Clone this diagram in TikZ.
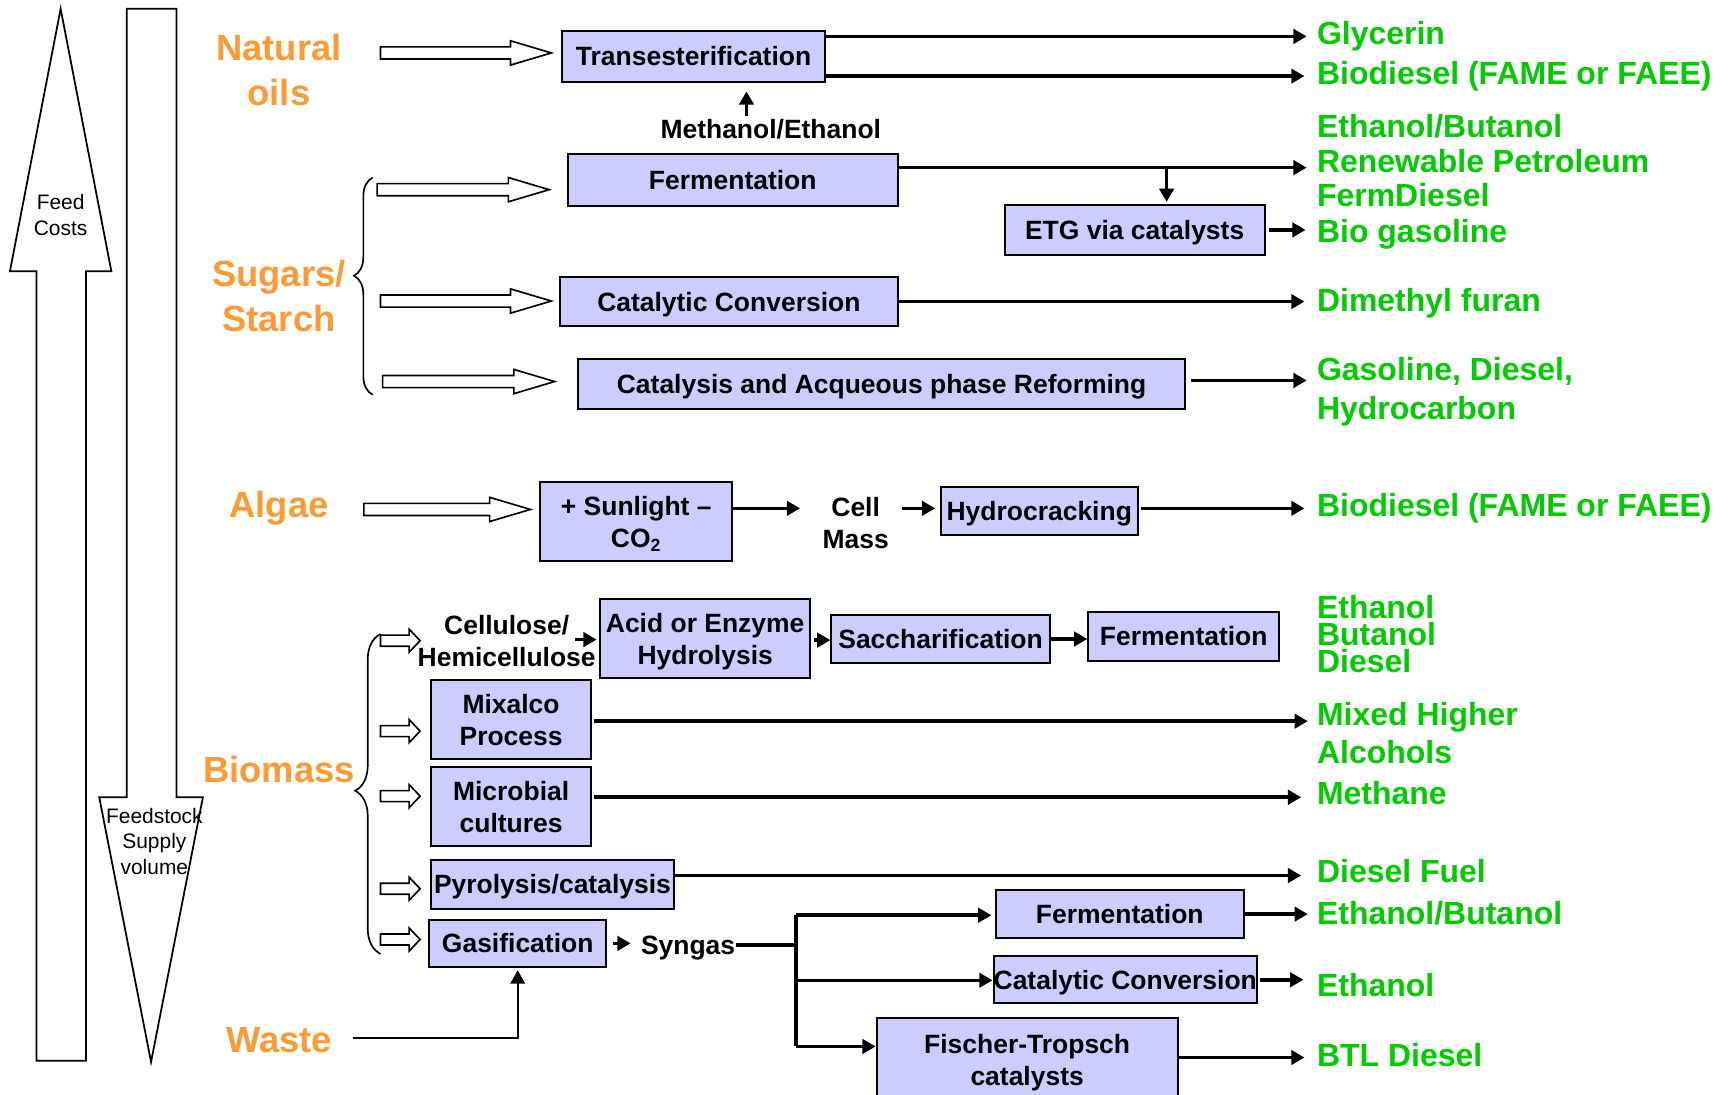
\documentclass[tikz,border=0pt]{standalone}
\usepackage{fontspec}
\setmainfont{Liberation Sans}
\usetikzlibrary{arrows.meta,calc,decorations.pathreplacing}
\definecolor{boxfill}{RGB}{204,204,255}
\definecolor{orng}{RGB}{255,153,51}
\definecolor{grn}{RGB}{0,204,0}
\newcommand\bigharrow[3]{\draw[hollow] (#1,#3-5.5) -- (#2-37,#3-5.5) -- (#2-37,#3-11) -- (#2,#3) -- (#2-37,#3+11) -- (#2-37,#3+5.5) -- (#1,#3+5.5) -- cycle;}
\newcommand\smallharrow[2]{\draw[hollow] (#1,#2-5) -- (#1+26,#2-5) -- (#1+26,#2-10.5) -- (#1+36,#2) -- (#1+26,#2+10.5) -- (#1+26,#2+5) -- (#1,#2+5) -- cycle;}
\tikzset{
 box/.style={draw, line width=0.9pt, fill=boxfill, inner sep=0pt, align=center, text depth=0pt, font=\bfseries\fontsize{12}{14.5}\selectfont},
 lbl/.style={inner sep=0pt, align=center, text depth=0pt, font=\bfseries\fontsize{12}{14.5}\selectfont},
 outp/.style={inner sep=0pt, anchor=west, align=left, text depth=0pt, text=grn, font=\bfseries\fontsize{14.5}{16}\selectfont},
 feed/.style={text=orng, inner sep=0pt, align=center, text depth=0pt, font=\bfseries\fontsize{16.5}{20.5}\selectfont},
 conn/.style={line width=1.6pt, -{Triangle[length=6pt,width=6.5pt]}},
 plainline/.style={line width=1.6pt},
 hollow/.style={draw, fill=white, line width=0.75pt, line join=miter},
 bigarr/.style={draw, fill=white, line width=0.8pt, line join=miter},
 note/.style={inner sep=0pt, align=center, font=\fontsize{9.5}{11.5}\selectfont},
 bracestyle/.style={decorate, line width=0.75pt},
}
\begin{document}
\begin{tikzpicture}[x=0.5pt,y=-0.5pt]
\useasboundingbox (0,0) rectangle (1568,993);
% big side arrows
\draw[bigarr] (33,962) -- (33,246) -- (9,246) -- (55,8) -- (101,246) -- (78,246) -- (78,962) -- cycle;
\node[note] (fc) at (55,195) {Feed\\Costs};
\draw[bigarr] (115,8) -- (115,723) -- (90,723) -- (137,963) -- (184,723) -- (160,723) -- (160,8) -- cycle;
\node[note] (fs) at (140,763) {Feedstock\\Supply\\volume};
% feedstock labels
\node[feed] (nat) at (253,63.5) {Natural\\oils};
\node[feed] (sug) at (253,268.5) {Sugars/\\Starch};
\node[feed] (alg) at (253,457) {Algae};
\node[feed] (bio) at (253,698) {Biomass};
\node[feed] (was) at (253,943) {Waste};
% braces
\draw[bracestyle, decoration={brace, amplitude=8.5pt, aspect=0.548}] (338,358) -- (338,161);
\draw[bracestyle, decoration={brace, amplitude=11.5pt, aspect=0.51}] (345,865) -- (345,575);
% hollow arrows
\bigharrow{345}{500}{48}
\bigharrow{342}{498}{172}
\bigharrow{345}{500}{273}
\bigharrow{347}{503}{346}
\bigharrow{330}{481}{462}
\smallharrow{345}{581}
\smallharrow{345}{663}
\smallharrow{345}{722}
\smallharrow{345}{806}
\smallharrow{345}{852}
% process boxes
\node[box, minimum width=119pt, minimum height=23pt] (trans) at (629,51) {Transesterification};
\node[lbl] (meth) at (699,117) {Methanol/Ethanol};
\node[box, minimum width=149.5pt, minimum height=23.5pt] (ferm1) at (664.5,163.5) {Fermentation};
\node[box, minimum width=118pt, minimum height=22.5pt] (etg) at (1029,208.5) {ETG via catalysts};
\node[box, minimum width=153pt, minimum height=22.5pt] (cat1) at (661,273.5) {Catalytic Conversion};
\node[box, minimum width=275.5pt, minimum height=22.5pt] (aqp) at (799.5,348.5) {Catalysis and Acqueous phase Reforming};
\node[box, minimum width=87pt, minimum height=36pt] (sun) at (577,473) {+ Sunlight –\\CO\textsubscript{2}};
\node[lbl] (cell) at (776,474) {Cell\\Mass};
\node[box, minimum width=89.5pt, minimum height=21.5pt] (hydro) at (942.5,463.5) {Hydrocracking};
\node[lbl] (cellu) at (459.5,581.5) {Cellulose/\\Hemicellulose};
\node[box, minimum width=95.5pt, minimum height=36pt] (acid) at (639.5,579) {Acid or Enzyme\\Hydrolysis};
\node[box, minimum width=99pt, minimum height=21.5pt] (sacch) at (853,579.5) {Saccharification};
\node[box, minimum width=86.5pt, minimum height=22pt] (ferm2) at (1073.5,577) {Fermentation};
\node[box, minimum width=72.5pt, minimum height=35.5pt] (mix) at (463.5,652.5) {Mixalco\\Process};
\node[box, minimum width=72.5pt, minimum height=35.5pt] (micro) at (463.5,731.5) {Microbial\\cultures};
\node[box, minimum width=110pt, minimum height=22pt] (pyro) at (501,802) {Pyrolysis/catalysis};
\node[box, minimum width=80.5pt, minimum height=21.5pt] (gas) at (469.5,855.5) {Gasification};
\node[lbl] (syn) at (624,857) {Syngas};
\node[box, minimum width=112.5pt, minimum height=22pt] (ferm3) at (1015.5,829) {Fermentation};
\node[box, minimum width=119.5pt, minimum height=21.5pt] (cat2) at (1020.5,888.5) {Catalytic Conversion};
\node[box, minimum width=136.5pt, minimum height=38.5pt] (ft) at (931.5,961.5) {Fischer-Tropsch\\catalysts};
% outputs
\node[outp] (glyc) at (1194,30) {Glycerin};
\node[outp] (bd1) at (1194,66) {Biodiesel (FAME or FAEE)};
\node[outp, font=\bfseries\fontsize{14.5}{15.75}\selectfont] (ebr) at (1194,145.5) {Ethanol/Butanol\\Renewable Petroleum\\FermDiesel};
\node[outp] (biog) at (1194,209) {Bio gasoline};
\node[outp] (dmf) at (1194,272) {Dimethyl furan};
\node[outp, font=\bfseries\fontsize{14.5}{17.5}\selectfont] (gdh) at (1194,352.5) {Gasoline, Diesel,\\Hydrocarbon};
\node[outp] (bd2) at (1194,458) {Biodiesel (FAME or FAEE)};
\node[outp, font=\bfseries\fontsize{14.5}{12.25}\selectfont] (ebd) at (1194,574.5) {Ethanol\\Butanol\\Diesel};
\node[outp, font=\bfseries\fontsize{14.5}{17.5}\selectfont] (mha) at (1194,664.5) {Mixed Higher\\Alcohols};
\node[outp] (mth) at (1194,719) {Methane};
\node[outp] (dfl) at (1194,790) {Diesel Fuel};
\node[outp] (eb2) at (1194,828) {Ethanol/Butanol};
\node[outp] (eth) at (1194,893) {Ethanol};
\node[outp] (btl) at (1194,957) {BTL Diesel};
% connectors
\draw[conn] ($(trans.east)+(0,-18)$) -- ($(trans.east -| glyc.west)+(-9,-18)$);
\draw[conn] ($(trans.east)+(0,18)$) -- ($(trans.east -| bd1.west)+(-11,18)$);
\coordinate (mtail) at (677,105);
\draw[conn] (mtail) -- ($(mtail |- trans.south)+(0,8)$);
\coordinate (fb) at (1058,152);
\draw[conn] ($(ferm1.east)+(0,-11.5)$) -- ($(ferm1.east -| ebr.west)+(-9,-11.5)$);
\draw[conn] (fb) -- ($(fb |- etg.north)+(0,-2)$);
\draw[conn] ($(etg.east)+(3,0)$) -- ($(etg.east -| biog.west)+(-10,0)$);
\draw[conn] (cat1.east) -- ($(cat1.east -| dmf.west)+(-11,0)$);
\draw[conn] ($(aqp.east)+(4,-3.5)$) -- ($(aqp.east -| gdh.west)+(-9,-3.5)$);
\draw[conn] ($(sun.east)+(0,-12)$) -- ($(sun.east -| cell.west)+(-20,-12)$);
\draw[conn] ($(cell.east |- hydro.west)+(12,-2.5)$) -- ($(hydro.west)+(-4,-2.5)$);
\draw[conn] ($(hydro.east)+(2,-2.5)$) -- ($(hydro.east -| bd2.west)+(-11,-2.5)$);
\draw[conn] ($(acid.west)+(-22,1)$) -- ($(acid.west)+(-2,1)$);
\draw[conn] ($(acid.east)+(2,1.5)$) -- ($(acid.east -| sacch.west)+(0,1.5)$);
\draw[conn] (sacch.east) -- (sacch.east -| ferm2.west);
\draw[conn] ($(mix.east)+(2,1.5)$) -- ($(mix.east -| mha.west)+(-8,1.5)$);
\draw[conn] ($(micro.east)+(2,-8.5)$) -- ($(micro.east -| mth.west)+(-14,-8.5)$);
\draw[conn] ($(pyro.east)+(0,-8)$) -- ($(pyro.east -| dfl.west)+(-14,-8)$);
\draw[conn] ($(gas.east)+(5,0)$) -- ($(gas.east -| syn.west)+(-9,0)$);
\coordinate (jt) at (722,830);
\coordinate (jm) at (722,889);
\coordinate (jb) at (722,949);
\draw[plainline] (syn.east) -- (syn.east -| jt);
\draw[plainline] (jt) -- (jb);
\draw[conn] (jt) -- ($(jt -| ferm3.west)+(-3,0)$);
\draw[conn] (jm) -- (jm -| cat2.west);
\draw[conn] (jb) -- (jb -| ft.west);
\draw[conn] (ferm3.east) -- ($(ferm3.east -| eb2.west)+(-8,0)$);
\draw[conn] ($(cat2.east)+(2,0)$) -- ($(cat2.east -| eth.west)+(-12,0)$);
\draw[conn] ($(ft.east)+(0,-2.5)$) -- ($(ft.east -| btl.west)+(-11,-2.5)$);
\draw[conn, line width=1pt] ($(was.east)+(19,-2)$) -| ($(gas.south)+(0,2)$);
\end{tikzpicture}
\end{document}
